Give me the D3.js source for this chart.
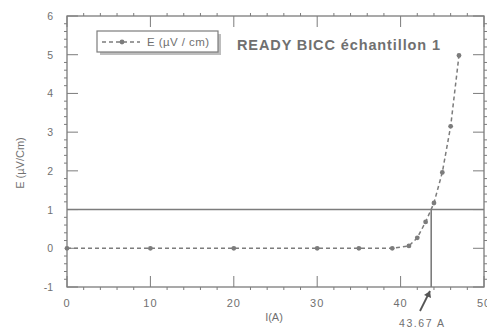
<!DOCTYPE html>
<html><head><meta charset="utf-8">
<script src="https://cdn.jsdelivr.net/npm/d3@7"></script>
<style>body{margin:0;background:#fff}text{font-family:"Liberation Sans",Arial,sans-serif;fill:#707070}</style>
</head><body><svg id="c" width="487" height="329"></svg>
<script>
const currentI = [0, 10, 20, 30, 35, 39, 41, 42, 43, 44, 45, 46, 47];
const fieldE = [0, 0, 0, 0, 0, 0, 0.06, 0.27, 0.68, 1.17, 1.96, 3.15, 4.98];
const xTicks = [0, 10, 20, 30, 40, 50];
const yTicks = [-1, 0, 1, 2, 3, 4, 5, 6];
const criterionE = 1;
const criticalI = 43.67;
const seriesName = "E (µV / cm)";
const titleText = "READY BICC échantillon 1";

const col = "#7c7c7c";
const svg = d3.select("#c");
const L = 67, R = 484, T = 16, B = 287;
const x = d3.scaleLinear().domain([0, 50]).range([L, R]);
const y = d3.scaleLinear().domain([-1, 6]).range([B, T]);

const g = svg.append("g");
g.append("rect").attr("x", L).attr("y", T).attr("width", R - L).attr("height", B - T)
  .attr("fill", "none").attr("stroke", col).attr("stroke-width", 1.3);

const xMinor = d3.range(0, 50.01, 2).filter(v => v % 10 !== 0);
const yMinor = d3.range(-1, 6.001, 0.2).map(v => +v.toFixed(1)).filter(v => Math.abs(v - Math.round(v)) > 1e-6);

function ticks(sel, data, f) { sel.selectAll(null).data(data).enter().append("line").each(f).attr("stroke", col).attr("stroke-width", 1); }
ticks(g, xTicks, function(d){ d3.select(this).attr("x1", x(d)).attr("x2", x(d)).attr("y1", B).attr("y2", B - 11); });
ticks(g, xTicks, function(d){ d3.select(this).attr("x1", x(d)).attr("x2", x(d)).attr("y1", T).attr("y2", T + 11); });
ticks(g, xMinor, function(d){ d3.select(this).attr("x1", x(d)).attr("x2", x(d)).attr("y1", B).attr("y2", B + 3); });
ticks(g, xMinor, function(d){ d3.select(this).attr("x1", x(d)).attr("x2", x(d)).attr("y1", T).attr("y2", T - 3); });
ticks(g, yTicks, function(d){ d3.select(this).attr("x1", L).attr("x2", L + 11).attr("y1", y(d)).attr("y2", y(d)); });
ticks(g, yTicks, function(d){ d3.select(this).attr("x1", R).attr("x2", R - 11).attr("y1", y(d)).attr("y2", y(d)); });
ticks(g, yMinor, function(d){ d3.select(this).attr("x1", L).attr("x2", L - 3).attr("y1", y(d)).attr("y2", y(d)); });
ticks(g, yMinor, function(d){ d3.select(this).attr("x1", R).attr("x2", R + 3).attr("y1", y(d)).attr("y2", y(d)); });

g.selectAll(null).data(xTicks).enter().append("text")
  .attr("x", d => x(d)).attr("y", 307).attr("text-anchor", "middle").attr("font-size", 11)
  .attr("letter-spacing", 1).text(d => d);
g.selectAll(null).data(yTicks).enter().append("text")
  .attr("x", 53).attr("y", d => y(d) + 4).attr("text-anchor", "end").attr("font-size", 10.5).text(d => d);

g.append("text").attr("transform", `translate(24,163) rotate(-90)`).attr("text-anchor", "middle")
  .attr("font-size", 11).text("E (µV/Cm)");
g.append("text").attr("x", 274).attr("y", 321).attr("text-anchor", "middle").attr("font-size", 11).text("I(A)");

g.append("line").attr("x1", L).attr("x2", R).attr("y1", y(criterionE)).attr("y2", y(criterionE))
  .attr("stroke", col).attr("stroke-width", 1.6);
g.append("line").attr("x1", x(criticalI)).attr("x2", x(criticalI)).attr("y1", y(criterionE)).attr("y2", B)
  .attr("stroke", col).attr("stroke-width", 1.6);

const line = d3.line().x((d, i) => x(currentI[i])).y(d => y(d));
g.append("path").datum(fieldE).attr("d", line).attr("fill", "none").attr("stroke", col)
  .attr("stroke-width", 1.5).attr("stroke-dasharray", "4,3");
g.selectAll(null).data(fieldE).enter().append("circle")
  .attr("cx", (d, i) => x(currentI[i])).attr("cy", d => y(d)).attr("r", 2.4).attr("fill", col);

const lg = g.append("g");
lg.append("rect").attr("x", 100).attr("y", 34).attr("width", 121).attr("height", 21).attr("fill", "#bdbdbd");
lg.append("rect").attr("x", 97).attr("y", 31).attr("width", 121).attr("height", 21).attr("fill", "#fff")
  .attr("stroke", col).attr("stroke-width", 1.2);
lg.append("line").attr("x1", 102).attr("x2", 140).attr("y1", 42).attr("y2", 42).attr("stroke", col)
  .attr("stroke-width", 1.5).attr("stroke-dasharray", "4,3");
lg.append("circle").attr("cx", 122).attr("cy", 42).attr("r", 2.4).attr("fill", col);
lg.append("text").attr("x", 147).attr("y", 46).attr("font-size", 11.5).attr("textLength", 62)
  .attr("lengthAdjust", "spacing").text(seriesName);

g.append("text").attr("x", 237).attr("y", 50).attr("font-size", 14.5).attr("font-weight", "bold")
  .attr("textLength", 203).attr("lengthAdjust", "spacing").text(titleText);

g.append("text").attr("x", 399).attr("y", 327).attr("font-size", 10.5).attr("textLength", 45)
  .attr("lengthAdjust", "spacing").text(criticalI.toFixed(2) + " A");
const ax1 = 420, ay1 = 311, ax2 = 430, ay2 = 291;
g.append("line").attr("x1", ax1).attr("y1", ay1).attr("x2", ax2).attr("y2", ay2).attr("stroke", "#555").attr("stroke-width", 1.8);
g.append("path").attr("d", `M${ax2},${ay2} L${ax2-6},${ay2+4} L${ax2+1},${ay2+7} Z`).attr("fill", "#555");
</script></body></html>
